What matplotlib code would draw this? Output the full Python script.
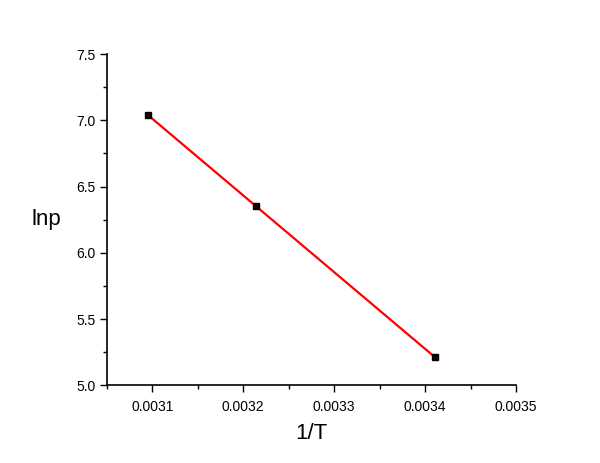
import numpy as np
import matplotlib
matplotlib.use("Agg")
import matplotlib.pyplot as plt
from matplotlib.ticker import MultipleLocator

# data
inv_T = [0.003095, 0.003214, 0.003411]
ln_p = [7.04, 6.355, 5.21]

plt.rcParams['font.family'] = ['Liberation Sans', 'DejaVu Sans']

fig = plt.figure(figsize=(6, 4.63), dpi=100)
ax = fig.add_axes([0.178, 0.168, 0.682, 0.715])

# linear fit
k, b = np.polyfit(inv_T, ln_p, 1)
xf = np.array([min(inv_T), max(inv_T)])
ax.plot(xf, k * xf + b, color='red', lw=1.6, zorder=2)
ax.plot(inv_T, ln_p, 's', color='black', ms=5, mfc='#200000', zorder=3)

ax.set_xlim(0.00305, 0.0035)
ax.set_ylim(5.0, 7.5)
ax.xaxis.set_minor_locator(MultipleLocator(0.00005))
ax.yaxis.set_minor_locator(MultipleLocator(0.25))
ax.set_xticks([0.0031, 0.0032, 0.0033, 0.0034, 0.0035])
ax.set_xticklabels(['0.0031', '0.0032', '0.0033', '0.0034', '0.0035'])
ax.set_yticks([5.0, 5.5, 6.0, 6.5, 7.0, 7.5])
ax.set_yticklabels(['5.0', '5.5', '6.0', '6.5', '7.0', '7.5'])

for s in ['top', 'right']:
    ax.spines[s].set_visible(False)
for s in ['left', 'bottom']:
    ax.spines[s].set_linewidth(1.2)

ax.tick_params(which='major', direction='out', length=5, width=1, labelsize=10)
ax.tick_params(axis='y', which='major', pad=3)
ax.tick_params(axis='x', which='major', pad=6)
ax.tick_params(which='minor', direction='out', length=3, width=1)

ax.set_xlabel('1/T', fontsize=16, labelpad=6)
ax.set_ylabel('lnp', fontsize=16, rotation=0, labelpad=22, va='center')

fig.savefig('out.png', dpi=100)
